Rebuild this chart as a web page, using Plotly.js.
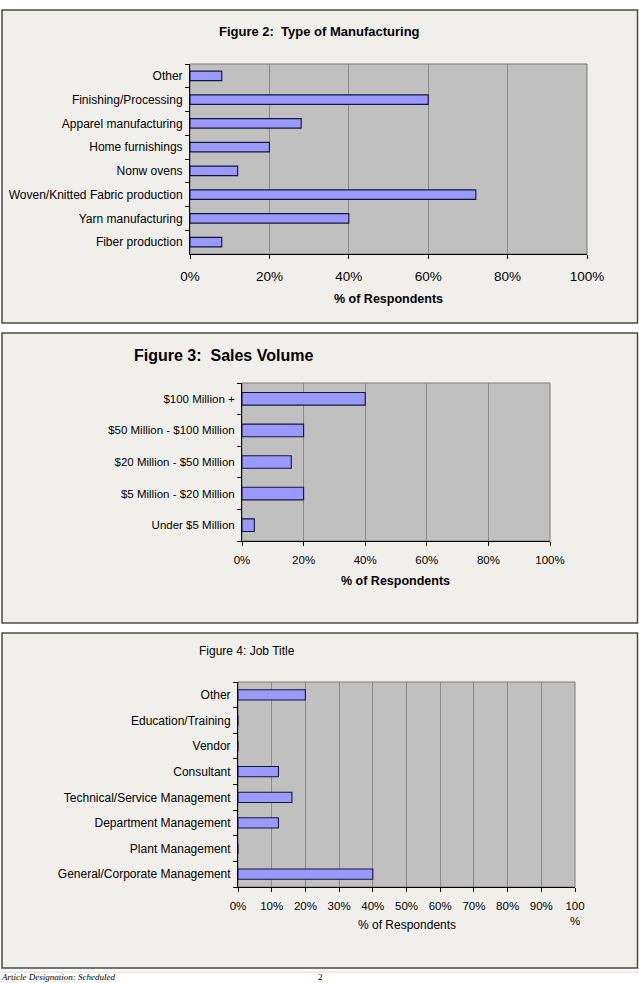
<!DOCTYPE html>
<html>
<head>
<meta charset="utf-8">
<script src="https://cdn.plot.ly/plotly-3.0.1.min.js"></script>
<style>
  html, body { margin: 0; padding: 0; background: #ffffff; }
  #chart { width: 639px; height: 983px; }
</style>
</head>
<body>
<div id="chart"></div>
<script>
// ---- Data (bottom-to-top order as drawn) ----
const mfgCategories = ["Fiber production", "Yarn manufacturing", "Woven/Knitted Fabric production",
  "Nonw ovens", "Home furnishings", "Apparel manufacturing", "Finishing/Processing", "Other"];
const mfgValues = [8, 40, 72, 12, 20, 28, 60, 8];

const salesCategories = ["Under $5 Million", "$5 Million - $20 Million", "$20 Million - $50 Million",
  "$50 Million - $100 Million", "$100 Million +"];
const salesValues = [4, 20, 16, 20, 40];

const jobCategories = ["General/Corporate Management", "Plant Management", "Department Management",
  "Technical/Service Management", "Consultant", "Vendor", "Education/Training", "Other"];
const jobValues = [40, 0, 12, 16, 12, 0, 0, 20];

const pctTicks20 = [0, 20, 40, 60, 80, 100];
const pctTickText20 = ["0%", "20%", "40%", "60%", "80%", "100%"];
const pctTicks10 = [0, 10, 20, 30, 40, 50, 60, 70, 80, 90, 100];
const pctTickText10 = ["0%", "10%", "20%", "30%", "40%", "50%", "60%", "70%", "80%", "90%", "100<br>%"];

// ---- Layout helpers ----
const W = 639, H = 983;
const PX = p => p / W;
const PY = p => 1 - p / H;
const FONT = "Arial, 'Liberation Sans', sans-serif";
const SERIF = "'Liberation Serif', 'Times New Roman', serif";
const barStyle = { color: "#9999FF", line: { color: "#14143a", width: 1.1 } };

const traces = [
  { type: "bar", orientation: "h", x: mfgValues, y: mfgCategories, xaxis: "x", yaxis: "y", marker: barStyle, hoverinfo: "x+y" },
  { type: "bar", orientation: "h", x: salesValues, y: salesCategories, xaxis: "x2", yaxis: "y2", marker: barStyle, hoverinfo: "x+y" },
  { type: "bar", orientation: "h", x: jobValues, y: jobCategories, xaxis: "x3", yaxis: "y3", marker: barStyle, hoverinfo: "x+y" }
];

function xAxis(domain, anchor, tickvals, ticktext, size, standoff) {
  return {
    domain: domain, anchor: anchor, range: [0, 100], fixedrange: true,
    tickmode: "array", tickvals: tickvals, ticktext: ticktext,
    ticks: "outside", ticklen: 4, tickcolor: "#000", tickwidth: 1,
    ticklabelstandoff: standoff,
    showline: true, linecolor: "#000", linewidth: 1,
    showgrid: true, gridcolor: "#8a8a8a", gridwidth: 1,
    zeroline: false,
    tickfont: { family: FONT, size: size, color: "#000" }
  };
}
function yAxis(domain, anchor, size) {
  return {
    domain: domain, anchor: anchor, type: "category", fixedrange: true,
    ticks: "outside", ticklen: 4, tickcolor: "#000", tickwidth: 1, tickson: "boundaries",
    ticklabelstandoff: 4,
    showline: true, linecolor: "#000", linewidth: 1,
    showgrid: false, zeroline: false,
    tickfont: { family: FONT, size: size, color: "#000" }
  };
}

function box(y0, y1) {
  return { type: "rect", xref: "paper", yref: "paper", layer: "below",
    x0: PX(2), x1: PX(637.5), y0: PY(y1), y1: PY(y0),
    fillcolor: "#F1EFEC", line: { color: "#4a4a4a", width: 1.5 } };
}
function plotBg(xr, yr) {
  return { type: "rect", xref: xr + " domain", yref: yr + " domain", layer: "below",
    x0: 0, x1: 1, y0: 0, y1: 1, fillcolor: "#C0C0C0", line: { color: "#7a7a7a", width: 1 } };
}

const layout = {
  width: W, height: H,
  margin: { l: 0, r: 0, t: 0, b: 0 },
  paper_bgcolor: "#ffffff", plot_bgcolor: "rgba(0,0,0,0)",
  showlegend: false, bargap: 0.6,
  font: { family: FONT, color: "#000" },
  xaxis: xAxis([PX(190), PX(587)], "y", pctTicks20, pctTickText20, 13.5, 6),
  yaxis: yAxis([PY(254), PY(64)], "x", 12),
  xaxis2: xAxis([PX(242), PX(550)], "y2", pctTicks20, pctTickText20, 11.5, 4),
  yaxis2: yAxis([PY(541), PY(383)], "x2", 11.5),
  xaxis3: xAxis([PX(238), PX(575)], "y3", pctTicks10, pctTickText10, 11.5, 4),
  yaxis3: yAxis([PY(887), PY(682)], "x3", 12),
  shapes: [
    box(10, 323), box(333, 623), box(633, 968),
    plotBg("x", "y"), plotBg("x2", "y2"), plotBg("x3", "y3"),
    { type: "line", xref: "paper", yref: "paper", x0: 0, x1: 1, y0: PY(972), y1: PY(972),
      line: { color: "#d8d8d8", width: 1 } }
  ],
  annotations: [
    { text: "<b>Figure 2:  Type of Manufacturing</b>", xref: "paper", yref: "paper",
      x: PX(319), y: PY(31), xanchor: "center", yanchor: "middle", showarrow: false,
      font: { family: FONT, size: 13, color: "#000" } },
    { text: "<b>% of Respondents</b>", xref: "paper", yref: "paper",
      x: PX(388.5), y: PY(299), xanchor: "center", yanchor: "middle", showarrow: false,
      font: { family: FONT, size: 12.5, color: "#000" } },
    { text: "<b>Figure 3:  Sales Volume</b>", xref: "paper", yref: "paper",
      x: PX(132), y: PY(355), xanchor: "left", yanchor: "middle", showarrow: false,
      font: { family: FONT, size: 16, color: "#000" } },
    { text: "<b>% of Respondents</b>", xref: "paper", yref: "paper",
      x: PX(396), y: PY(581), xanchor: "center", yanchor: "middle", showarrow: false,
      font: { family: FONT, size: 12.5, color: "#000" } },
    { text: "Figure 4: Job Title", xref: "paper", yref: "paper",
      x: PX(197), y: PY(651), xanchor: "left", yanchor: "middle", showarrow: false,
      font: { family: FONT, size: 12, color: "#000" } },
    { text: "% of Respondents", xref: "paper", yref: "paper",
      x: PX(406.5), y: PY(925), xanchor: "center", yanchor: "middle", showarrow: false,
      font: { family: FONT, size: 12, color: "#000" } },
    { text: "<i>Article Designation: Scheduled</i>", xref: "paper", yref: "paper",
      x: 0, y: 0, xanchor: "left", yanchor: "bottom", showarrow: false,
      font: { family: SERIF, size: 9, color: "#000" }, borderpad: 0 },
    { text: "2", xref: "paper", yref: "paper",
      x: PX(320), y: 0, xanchor: "center", yanchor: "bottom", showarrow: false,
      font: { family: SERIF, size: 9, color: "#000" }, borderpad: 0 }
  ]
};

Plotly.newPlot("chart", traces, layout, { displayModeBar: false, staticPlot: true });
</script>
</body>
</html>
